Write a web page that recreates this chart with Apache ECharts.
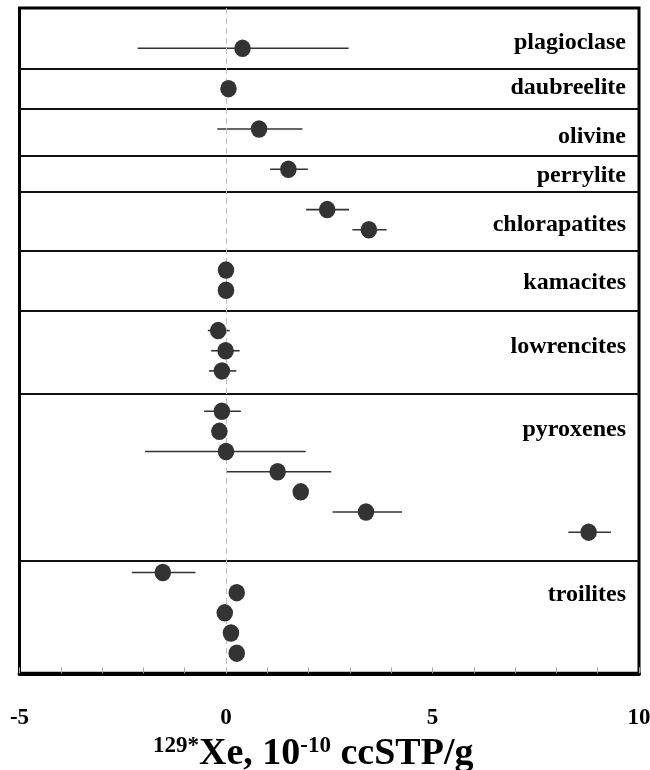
<!DOCTYPE html>
<html>
<head>
<meta charset="utf-8">
<script src="https://cdn.jsdelivr.net/npm/echarts@6/dist/echarts.min.js"></script>
<style>
html,body{margin:0;padding:0;background:#fff;}
#chart{width:650px;height:770px;}
</style>
</head>
<body>
<div id="chart"></div>
<script>
// ---- data ----
const groups = ['plagioclase','daubreelite','olivine','perrylite','chlorapatites','kamacites','lowrencites','pyroxenes','troilites'];
// row boundaries (in row units, 0 = top of plot, 33 = bottom)
const groupBounds = [3, 5, 7.35, 9.1, 12.05, 15, 19.15, 27.4];
const labelRow = [1.63, 3.85, 6.3, 8.23, 10.66, 13.53, 16.72, 20.83, 29.0];
const pointRow = [2, 4, 6, 8, 10, 11, 13, 14, 16, 17, 18, 20, 21, 22, 23, 24, 25, 26, 28, 29, 30, 31, 32];
const pointValue = [0.40, 0.06, 0.80, 1.51, 2.45, 3.46, 0.0, 0.0, -0.19, -0.01, -0.10, -0.10, -0.16, 0.0, 1.25, 1.81, 3.39, 8.78, -1.53, 0.26, -0.03, 0.12, 0.26];
const errLow  = [-2.14, null, -0.21, 1.07, 1.94, 3.06, null, null, -0.44, -0.36, -0.41, -0.53, null, -1.96, 0.0, null, 2.58, 8.29, -2.28, null, null, null, null];
const errHigh = [2.97, null, 1.85, 1.98, 2.98, 3.89, null, null, 0.09, 0.33, 0.25, 0.36, null, 1.93, 2.55, null, 4.26, 9.32, -0.74, null, null, null, null];
const xTicks = [-5, 0, 5, 10];

// ---- build ----
const FONT = '"Liberation Serif","Times New Roman",serif';
const chart = echarts.init(document.getElementById('chart'), null, {renderer: 'canvas'});

const pts = pointValue.map((v, i) => [v, pointRow[i]]);
const errs = [];
pointValue.forEach((v, i) => {
  if (errLow[i] !== null && errHigh[i] !== null) errs.push([errLow[i], errHigh[i], pointRow[i]]);
});
const labels = groups.map((g, i) => [xTicks[xTicks.length - 1], labelRow[i], g]);

const option = {
  backgroundColor: '#fff',
  animation: false,
  grid: {left: 19.5, top: 8, width: 619.5, height: 665.3, show: true, borderColor: '#000', borderWidth: 3,
         backgroundColor: 'transparent', containLabel: false, outerBoundsMode: 'none'},
  xAxis: {
    type: 'value', min: xTicks[0], max: xTicks[xTicks.length - 1], interval: 5,
    axisLine: {show: true, onZero: false, lineStyle: {color: '#000', width: 4}},
    axisTick: {show: true, inside: true, length: 6, lineStyle: {color: '#aaa', width: 1}},
    minorTick: {show: true, splitNumber: 5, length: 6, lineStyle: {color: '#aaa', width: 1}},
    splitLine: {show: false},
    axisLabel: {fontFamily: FONT, fontWeight: 'bold', fontSize: 23, color: '#000', margin: 33},
    name: '{s|129*}{m|Xe, 10}{s|-10}{m| ccSTP/g}',
    nameLocation: 'middle', nameGap: 58,
    nameTextStyle: {
      padding: [0, 32, 0, 0],
      rich: {
        m: {fontFamily: FONT, fontWeight: 'bold', fontSize: 38, color: '#000', lineHeight: 40},
        s: {fontFamily: FONT, fontWeight: 'bold', fontSize: 23, color: '#000', lineHeight: 22, verticalAlign: 'top'}
      }
    }
  },
  yAxis: {
    type: 'value', min: 0, max: 33, inverse: true,
    axisLine: {show: false}, axisTick: {show: false}, axisLabel: {show: false}, splitLine: {show: false}
  },
  series: [
    {
      type: 'custom',
      name: 'errors',
      data: errs,
      encode: {x: [0, 1], y: 2},
      z: 3,
      renderItem: function (params, api) {
        const y = api.value(2);
        const p1 = api.coord([api.value(0), y]);
        const p2 = api.coord([api.value(1), y]);
        return {type: 'line', shape: {x1: p1[0], y1: p1[1], x2: p2[0], y2: p2[1]}, style: {stroke: '#333', lineWidth: 1.6}};
      },
      markLine: {
        silent: true, symbol: 'none', animation: false,
        label: {show: false},
        data: [
          ...groupBounds.map(b => ({yAxis: b, lineStyle: {color: '#111', width: 2, type: 'solid'}})),
          {xAxis: 0, lineStyle: {color: '#c0c0c0', width: 1, type: [6, 4]}}
        ]
      }
    },
    {
      type: 'scatter',
      name: 'points',
      data: pts,
      symbol: 'circle',
      symbolSize: [16.5, 17.5],
      itemStyle: {color: '#333', opacity: 1},
      z: 5
    },
    {
      type: 'custom',
      name: 'labels',
      data: labels,
      encode: {x: 0, y: 1},
      z: 6,
      renderItem: function (params, api) {
        const p = api.coord([api.value(0), api.value(1)]);
        return {
          type: 'text', x: p[0] - 13, y: p[1] + 2,
          style: {text: groups[params.dataIndex], align: 'right', verticalAlign: 'middle',
                  fontFamily: FONT, fontWeight: 'bold', fontSize: 24, fill: '#000'}
        };
      }
    }
  ]
};
chart.setOption(option);
</script>
</body>
</html>
